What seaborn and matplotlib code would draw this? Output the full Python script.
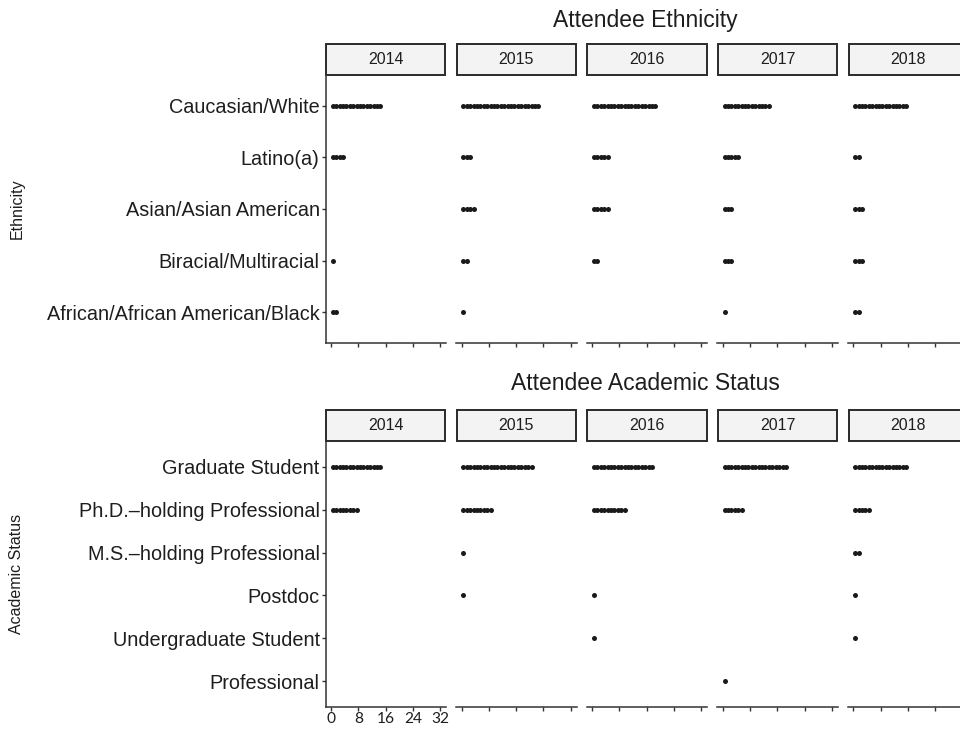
import matplotlib
matplotlib.use("Agg")
import matplotlib.pyplot as plt
import pandas as pd
import seaborn as sns
from matplotlib.patches import Rectangle

# ---- data: number of attendees per category and year ----
years = ["2014", "2015", "2016", "2017", "2018"]

ethnicity_levels = ["Caucasian/White", "Latino(a)", "Asian/Asian American",
                    "Biracial/Multiracial", "African/African American/Black"]
ethnicity_2014 = [15, 4, 0, 1, 2]
ethnicity_2015 = [23, 3, 4, 2, 1]
ethnicity_2016 = [19, 5, 5, 2, 0]
ethnicity_2017 = [14, 5, 3, 3, 1]
ethnicity_2018 = [16, 2, 3, 3, 2]

status_levels = ["Graduate Student", "Ph.D.\u2013holding Professional",
                 "M.S.\u2013holding Professional", "Postdoc",
                 "Undergraduate Student", "Professional"]
status_2014 = [15, 8, 0, 0, 0, 0]
status_2015 = [21, 9, 1, 1, 0, 0]
status_2016 = [18, 10, 0, 1, 1, 0]
status_2017 = [19, 6, 0, 0, 0, 1]
status_2018 = [16, 5, 2, 1, 1, 0]

x_ticks = [0, 8, 16, 24, 32]

ethnicity_counts = [ethnicity_2014, ethnicity_2015, ethnicity_2016,
                    ethnicity_2017, ethnicity_2018]
status_counts = [status_2014, status_2015, status_2016, status_2017, status_2018]


def long_table(levels, counts_by_year):
    """One row per attendee; 'pos' stacks attendees side by side."""
    rows = []
    for year, counts in zip(years, counts_by_year):
        for level, n in zip(levels, counts):
            for i in range(n):
                rows.append({"year": year, "category": level, "pos": i + 0.5})
    return pd.DataFrame(rows)


eth_df = long_table(ethnicity_levels, ethnicity_counts)
stat_df = long_table(status_levels, status_counts)

# ---- figure ----
sns.set_theme(style="ticks")
plt.rcParams["font.family"] = ["Liberation Sans", "DejaVu Sans"]

W, H = 960, 732
fig = plt.figure(figsize=(W / 100, H / 100), dpi=100)


def px_axes(x0, y0, x1, y1):
    return fig.add_axes([x0 / W, 1 - y1 / H, (x1 - x0) / W, (y1 - y0) / H])


ink = "#1e1e1e"
panel_left, panel_width, panel_step = 325.5, 120.5, 130.6


def draw_section(df, levels, title, ylabel, title_y, strip_top, plot_top,
                 plot_bottom, show_xlabels):
    fig.text(645 / W, 1 - title_y / H, title, ha="center", va="center",
             fontsize=16.5, color=ink)
    fig.text(17 / W, 1 - (plot_top + plot_bottom) / 2 / H, ylabel,
             rotation=90, ha="center", va="center", fontsize=11.5, color=ink)
    n = len(levels)
    for k, year in enumerate(years):
        x0 = panel_left + k * panel_step
        ax = px_axes(x0, plot_top, x0 + panel_width, plot_bottom)
        sub = df[df["year"] == year]
        sns.stripplot(data=sub, x="pos", y="category", order=levels,
                      jitter=False, color="#1a1a1a", size=3.6, linewidth=0,
                      ax=ax)
        ax.set_xlim(-1.61, 33.7)
        ax.set_ylim(n - 1 + 0.6, -0.6)
        ax.set_xticks(x_ticks)
        ax.set_xlabel("")
        ax.set_ylabel("")
        ax.grid(False)
        ax.set_facecolor("white")
        for side in ("top", "right"):
            ax.spines[side].set_visible(False)
        ax.spines["bottom"].set_color("#333333")
        ax.spines["bottom"].set_linewidth(1.1)
        ax.tick_params(axis="x", length=3.0, width=1.0, color="#333333",
                       direction="out", pad=0.5)
        if k == 0:
            ax.spines["left"].set_color("#333333")
            ax.spines["left"].set_linewidth(1.1)
            ax.tick_params(axis="y", length=3.0, width=1.0, color="#333333",
                           labelsize=14.3, labelcolor=ink, pad=1.2)
        else:
            ax.spines["left"].set_visible(False)
            ax.tick_params(axis="y", left=False, labelleft=False)
        if show_xlabels and k == 0:
            ax.set_xticklabels([str(t) for t in x_ticks],
                               fontfamily="Lato", fontsize=11.2,
                               color=ink)
        else:
            ax.set_xticklabels([])
        # facet strip
        strip_h = (plot_top - strip_top) / (plot_bottom - plot_top)
        ax.add_patch(Rectangle((0.005, 1.0), 0.99, strip_h,
                               transform=ax.transAxes, clip_on=False,
                               facecolor="#F2F3F2", edgecolor="#2a2a2a",
                               linewidth=1.4))
        ax.text(0.5, 1.0 + strip_h / 2, year, transform=ax.transAxes,
                ha="center", va="center", fontsize=11.5, color=ink)


draw_section(eth_df, ethnicity_levels, "Attendee Ethnicity", "Ethnicity",
             title_y=20, strip_top=44, plot_top=75, plot_bottom=343,
             show_xlabels=False)
draw_section(stat_df, status_levels, "Attendee Academic Status",
             "Academic Status", title_y=383, strip_top=410, plot_top=441,
             plot_bottom=707, show_xlabels=True)

fig.savefig("out.png", dpi=100)
